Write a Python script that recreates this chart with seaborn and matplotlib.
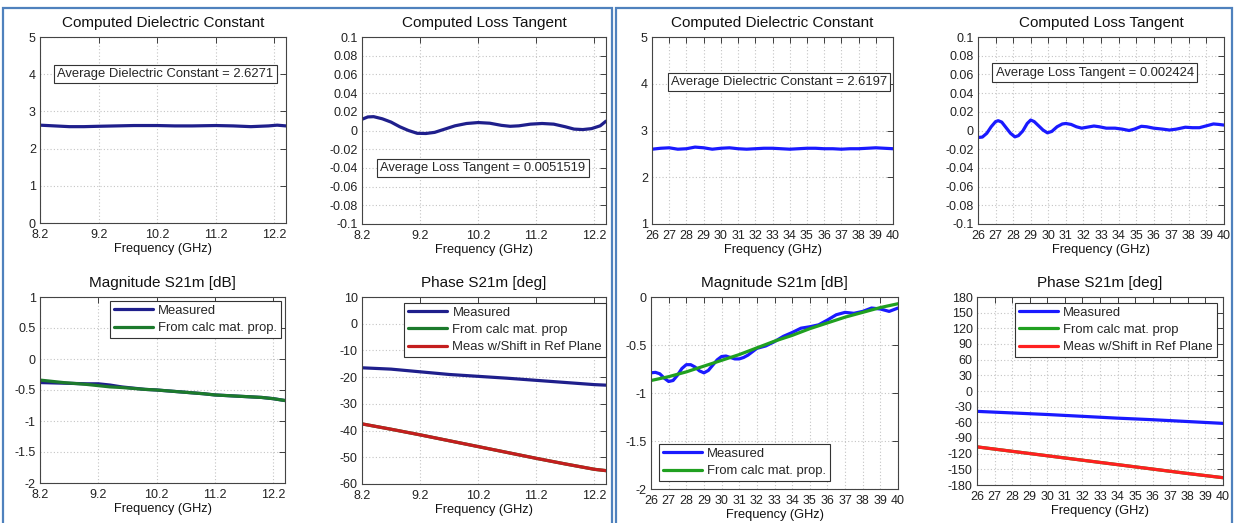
import matplotlib
matplotlib.use("Agg")
import matplotlib.pyplot as plt
from matplotlib.patches import Rectangle
import seaborn as sns

# ---------------- data: X-band (left panel) ----------------
freq_x_dk = [8.2, 8.45, 8.7, 8.95, 9.2, 9.5, 9.8, 10.2, 10.5, 10.8, 11.2, 11.5, 11.8, 12.1, 12.25, 12.4]
dk_x = [2.63, 2.61, 2.59, 2.59, 2.60, 2.61, 2.62, 2.62, 2.61, 2.61, 2.62, 2.61, 2.59, 2.61, 2.63, 2.61]

freq_x_lt = [8.2, 8.3, 8.4, 8.55, 8.7, 8.85, 9.0, 9.15, 9.3, 9.45, 9.6, 9.8, 10.0, 10.2, 10.4,
             10.6, 10.75, 10.9, 11.1, 11.3, 11.5, 11.7, 11.85, 12.0, 12.15, 12.3, 12.4]
lt_x = [0.012, 0.0145, 0.0148, 0.0125, 0.009, 0.004, 0.000, -0.003, -0.0032, -0.002, 0.001, 0.005,
        0.0075, 0.0085, 0.0078, 0.0055, 0.0045, 0.005, 0.0068, 0.0075, 0.0068, 0.004, 0.0015, 0.001,
        0.002, 0.005, 0.010]

freq_x_mag = [8.2, 8.6, 9.0, 9.2, 9.4, 9.6, 10.0, 10.2, 10.6, 11.0, 11.2, 11.6, 12.0, 12.2, 12.4]
mag_meas_x = [-0.38, -0.39, -0.40, -0.40, -0.42, -0.45, -0.49, -0.50, -0.53, -0.56, -0.58, -0.60, -0.62, -0.64, -0.67]
mag_calc_x = [-0.34, -0.38, -0.41, -0.43, -0.45, -0.46, -0.49, -0.50, -0.53, -0.56, -0.58, -0.60, -0.62, -0.64, -0.67]

freq_x_ph = [8.2, 8.7, 9.2, 9.7, 10.2, 10.7, 11.2, 11.7, 12.2, 12.4]
ph_meas_x = [-16.5, -17.0, -18.0, -19.0, -19.7, -20.4, -21.2, -22.0, -22.8, -23.0]
ph_calc_x = [-37.5, -39.5, -41.6, -43.8, -46.0, -48.2, -50.4, -52.5, -54.5, -55.0]
ph_shift_x = [-37.5, -39.5, -41.6, -43.8, -46.0, -48.2, -50.4, -52.5, -54.5, -55.0]

# ---------------- data: Ka-band (right panel) ----------------
freq_k_dk = [26, 26.5, 27, 27.5, 28, 28.5, 29, 29.5, 30, 30.5, 31, 31.5, 32, 32.5, 33, 33.5, 34,
             34.5, 35, 35.5, 36, 36.5, 37, 37.5, 38, 38.5, 39, 39.5, 40]
dk_k = [2.60, 2.62, 2.63, 2.60, 2.61, 2.645, 2.63, 2.60, 2.62, 2.63, 2.61, 2.60, 2.61, 2.62, 2.62,
        2.61, 2.60, 2.61, 2.62, 2.62, 2.61, 2.61, 2.60, 2.61, 2.61, 2.62, 2.63, 2.62, 2.61]

freq_k_lt = [26, 26.25, 26.5, 26.75, 27.0, 27.15, 27.35, 27.6, 27.85, 28.1, 28.3, 28.55, 28.8, 29.0,
             29.2, 29.45, 29.7, 29.95, 30.2, 30.5, 30.8, 31.0, 31.3, 31.6, 31.9, 32.2, 32.6, 32.9,
             33.3, 33.8, 34.2, 34.6, 34.9, 35.3, 35.6, 36.0, 36.5, 36.9, 37.3, 37.8, 38.2, 38.6,
             39.0, 39.4, 39.7, 40]
lt_k = [-0.0075, -0.007, -0.003, 0.004, 0.0095, 0.0105, 0.009, 0.003, -0.003, -0.0068, -0.0055,
        -0.0005, 0.0075, 0.0112, 0.0095, 0.005, 0.0005, -0.0025, -0.001, 0.004, 0.007, 0.0075,
        0.0065, 0.004, 0.0025, 0.0035, 0.0048, 0.004, 0.0025, 0.0025, 0.0015, 0.0, 0.0015, 0.0045,
        0.004, 0.0025, 0.0015, 0.0005, 0.0015, 0.0035, 0.003, 0.003, 0.005, 0.007, 0.0065, 0.0058]

freq_k_mag = [26, 26.25, 26.5, 26.75, 27, 27.25, 27.5, 27.75, 28, 28.25, 28.5, 28.75, 29, 29.25,
              29.5, 29.75, 30, 30.25, 30.5, 30.75, 31, 31.25, 31.5, 31.75, 32, 32.5, 33, 33.5, 34,
              34.5, 35, 35.5, 36, 36.5, 37, 37.5, 38, 38.5, 39, 39.5, 40]
mag_meas_k = [-0.79, -0.785, -0.80, -0.845, -0.88, -0.87, -0.815, -0.745, -0.705, -0.705, -0.73,
              -0.77, -0.79, -0.765, -0.71, -0.655, -0.62, -0.615, -0.63, -0.645, -0.645, -0.63,
              -0.605, -0.57, -0.535, -0.51, -0.465, -0.41, -0.37, -0.325, -0.31, -0.29, -0.24,
              -0.185, -0.16, -0.17, -0.15, -0.115, -0.125, -0.15, -0.115]
freq_k_calc = [26, 26.5, 27, 27.5, 28, 28.5, 29, 29.5, 30, 30.5, 31, 31.5, 32, 32.5, 33, 33.5, 34,
               34.5, 35, 35.5, 36, 36.5, 37, 37.5, 38, 38.5, 39, 39.5, 40]
mag_calc_k = [-0.87, -0.85, -0.83, -0.805, -0.78, -0.75, -0.72, -0.69, -0.66, -0.63, -0.60, -0.565,
              -0.53, -0.495, -0.46, -0.43, -0.40, -0.365, -0.33, -0.30, -0.27, -0.24, -0.21, -0.185,
              -0.16, -0.135, -0.11, -0.09, -0.07]

freq_k_ph = [26, 28, 30, 32, 34, 36, 38, 40]
ph_meas_k = [-39, -42, -45, -48.5, -52, -55, -58.5, -62]
ph_calc_k = [-107, -115.5, -124, -132.5, -141, -149.5, -158, -166]
ph_shift_k = [-107, -115.5, -124, -132.5, -141, -149.5, -158, -166]

# ---------------- ticks / labels ----------------
xticks_x = [8.2, 9.2, 10.2, 11.2, 12.2]
xticklabels_x = ["8.2", "9.2", "10.2", "11.2", "12.2"]
xticks_k = [26, 27, 28, 29, 30, 31, 32, 33, 34, 35, 36, 37, 38, 39, 40]
xticklabels_k = [str(v) for v in xticks_k]
yticks_dk_x = [0, 1, 2, 3, 4, 5]
yticks_dk_k = [1, 2, 3, 4, 5]
yticks_lt = [-0.1, -0.08, -0.06, -0.04, -0.02, 0, 0.02, 0.04, 0.06, 0.08, 0.1]
yticklabels_lt = ["-0.1", "-0.08", "-0.06", "-0.04", "-0.02", "0", "0.02", "0.04", "0.06", "0.08", "0.1"]
yticks_mag_x = [-2, -1.5, -1, -0.5, 0, 0.5, 1]
yticklabels_mag_x = ["-2", "-1.5", "-1", "-0.5", "0", "0.5", "1"]
yticks_mag_k = [-2, -1.5, -1, -0.5, 0]
yticklabels_mag_k = ["-2", "-1.5", "-1", "-0.5", "0"]
yticks_ph_x = [-60, -50, -40, -30, -20, -10, 0, 10]
yticks_ph_k = [-180, -150, -120, -90, -60, -30, 0, 30, 60, 90, 120, 150, 180]

avg_dk_x = "Average Dielectric Constant = 2.6271"
avg_lt_x = "Average Loss Tangent = 0.0051519"
avg_dk_k = "Average Dielectric Constant = 2.6197"
avg_lt_k = "Average Loss Tangent = 0.002424"

# ---------------- style ----------------
sns.set_style("white")
plt.rcParams["font.family"] = ["Liberation Sans", "DejaVu Sans"]
plt.rcParams["axes.unicode_minus"] = False

W, H = 1235, 523
fig = plt.figure(figsize=(W / 100, H / 100), dpi=100)
fig.patch.set_facecolor("white")

TICK_FS = 9
TITLE_FS = 11
LABEL_FS = 9.2
LEG_FS = 9.4

BLUE_X, GREEN_X, RED_X = "#1f1f8c", "#1c7a2c", "#c41e1e"
BLUE_K, GREEN_K, RED_K = "#1a1aff", "#20a020", "#ff2020"


def add_ax(l, t, r, b):
    return fig.add_axes([l / W, 1 - b / H, (r - l) / W, (b - t) / H])


def style(ax, title, xlim, xticks, xtl, ylim, yticks, ytl):
    ax.set_xlim(*xlim)
    ax.set_ylim(*ylim)
    ax.set_xticks(xticks)
    ax.set_xticklabels(xtl)
    ax.set_yticks(yticks)
    ax.set_yticklabels(ytl)
    ax.grid(True, linestyle=(0, (1, 2)), color="#c4c4c4", linewidth=0.8)
    ax.set_axisbelow(True)
    ax.tick_params(direction="in", top=True, right=True, length=4, width=0.6,
                   labelsize=TICK_FS, colors="#222222")
    ax.tick_params(axis="x", pad=4.5)
    ax.tick_params(axis="y", pad=3)
    for s in ax.spines.values():
        s.set_visible(True)
        s.set_color("#444444")
        s.set_linewidth(0.8)
    ax.set_title(title, fontsize=TITLE_FS, pad=7, color="#111111")
    ax.set_xlabel("Frequency (GHz)", fontsize=LABEL_FS, labelpad=1, color="#111111")
    ax.set_ylabel("")


def legend(ax, loc, pad=0.35, **kw):
    leg = ax.legend(loc=loc, fontsize=LEG_FS, frameon=True, fancybox=False, framealpha=1,
                    edgecolor="#333333", handlelength=3.0, borderpad=0.3, labelspacing=0.4,
                    handletextpad=0.4, borderaxespad=pad, **kw)
    leg.get_frame().set_linewidth(0.8)
    return leg


def avg_box(ax, x, y, text):
    ax.text(x, y, text, transform=ax.transAxes, ha="center", va="center", fontsize=LEG_FS,
            bbox=dict(boxstyle="square,pad=0.25", fc="white", ec="#333333", lw=0.8))


LW = 2.3
xlim_x = (8.2, 12.4)
xlim_k = (26, 40)

# ---- Left panel ----
a1 = add_ax(40, 37, 286, 223)
sns.lineplot(x=freq_x_dk, y=dk_x, ax=a1, color=BLUE_X, lw=LW)
style(a1, "Computed Dielectric Constant", xlim_x, xticks_x, xticklabels_x, (0, 5),
      yticks_dk_x, [str(v) for v in yticks_dk_x])
avg_box(a1, 0.51, 0.80, avg_dk_x)

a2 = add_ax(362, 37, 606, 224)
sns.lineplot(x=freq_x_lt, y=lt_x, ax=a2, color=BLUE_X, lw=LW)
style(a2, "Computed Loss Tangent", xlim_x, xticks_x, xticklabels_x, (-0.1, 0.1),
      yticks_lt, yticklabels_lt)
avg_box(a2, 0.496, 0.30, avg_lt_x)

a3 = add_ax(40, 297, 285, 483)
sns.lineplot(x=freq_x_mag, y=mag_meas_x, ax=a3, color=BLUE_X, lw=LW, label="Measured")
sns.lineplot(x=freq_x_mag, y=mag_calc_x, ax=a3, color=GREEN_X, lw=LW, label="From calc mat. prop.")
style(a3, "Magnitude S21m [dB]", xlim_x, xticks_x, xticklabels_x, (-2, 1),
      yticks_mag_x, yticklabels_mag_x)
legend(a3, "upper right", pad=0.3)

a4 = add_ax(362, 297, 606, 484)
sns.lineplot(x=freq_x_ph, y=ph_meas_x, ax=a4, color=BLUE_X, lw=LW, label="Measured")
sns.lineplot(x=freq_x_ph, y=ph_calc_x, ax=a4, color=GREEN_X, lw=LW, label="From calc mat. prop")
sns.lineplot(x=freq_x_ph, y=ph_shift_x, ax=a4, color=RED_X, lw=LW, label="Meas w/Shift in Ref Plane")
style(a4, "Phase S21m [deg]", xlim_x, xticks_x, xticklabels_x, (-60, 10),
      yticks_ph_x, [str(v) for v in yticks_ph_x])
legend(a4, "upper right", pad=0.0, bbox_to_anchor=(1.0, 0.97))

# ---- Right panel ----
b1 = add_ax(652, 37, 893, 224)
sns.lineplot(x=freq_k_dk, y=dk_k, ax=b1, color=BLUE_K, lw=LW)
style(b1, "Computed Dielectric Constant", xlim_k, xticks_k, xticklabels_k, (1, 5),
      yticks_dk_k, [str(v) for v in yticks_dk_k])
avg_box(b1, 0.527, 0.76, avg_dk_k)

b2 = add_ax(978, 37, 1224, 224)
sns.lineplot(x=freq_k_lt, y=lt_k, ax=b2, color=BLUE_K, lw=LW)
style(b2, "Computed Loss Tangent", xlim_k, xticks_k, xticklabels_k, (-0.1, 0.1),
      yticks_lt, yticklabels_lt)
avg_box(b2, 0.474, 0.81, avg_lt_k)

b3 = add_ax(651, 297, 898, 489)
sns.lineplot(x=freq_k_mag, y=mag_meas_k, ax=b3, color=BLUE_K, lw=LW, label="Measured")
sns.lineplot(x=freq_k_calc, y=mag_calc_k, ax=b3, color=GREEN_K, lw=LW, label="From calc mat. prop.")
style(b3, "Magnitude S21m [dB]", xlim_k, xticks_k, xticklabels_k, (-2, 0),
      yticks_mag_k, yticklabels_mag_k)
legend(b3, "lower left", pad=0.6)

b4 = add_ax(977, 297, 1223, 485)
sns.lineplot(x=freq_k_ph, y=ph_meas_k, ax=b4, color=BLUE_K, lw=LW, label="Measured")
sns.lineplot(x=freq_k_ph, y=ph_calc_k, ax=b4, color=GREEN_K, lw=LW, label="From calc mat. prop")
sns.lineplot(x=freq_k_ph, y=ph_shift_k, ax=b4, color=RED_K, lw=LW, label="Meas w/Shift in Ref Plane")
style(b4, "Phase S21m [deg]", xlim_k, xticks_k, xticklabels_k, (-180, 180),
      yticks_ph_k, [str(v) for v in yticks_ph_k])
legend(b4, "upper right", pad=0.0, bbox_to_anchor=(0.975, 0.97))

# ---- panel frames ----
BORDER = "#4f81bd"
for (l, r) in [(3, 612), (616, 1232)]:
    fig.patches.append(Rectangle((l / W, -0.05), (r - l) / W, 1.05 - 8 / H,
                                 transform=fig.transFigure, fill=False, ec=BORDER, lw=1.6,
                                 zorder=10))

fig.savefig("out.png", dpi=100, facecolor="white")
